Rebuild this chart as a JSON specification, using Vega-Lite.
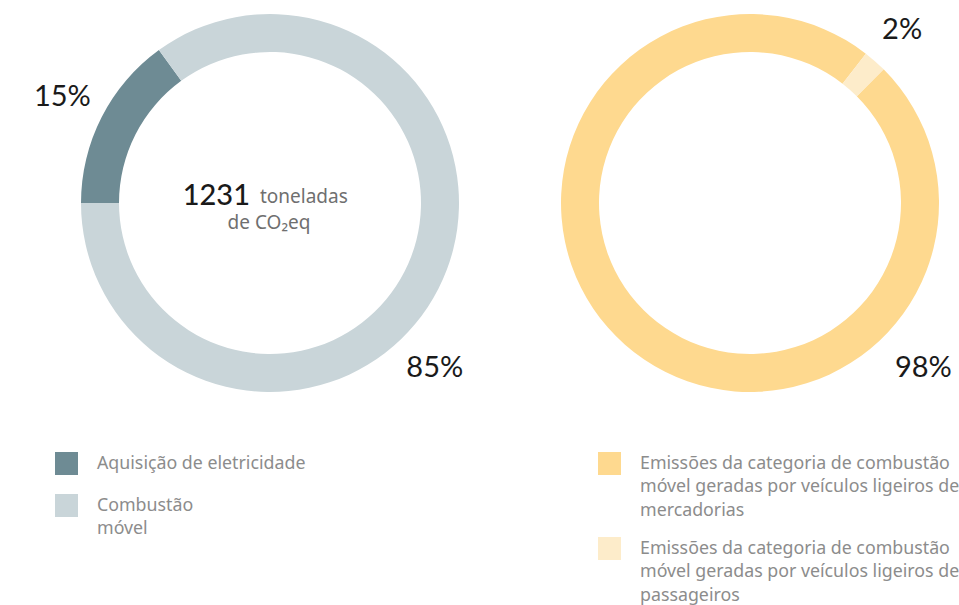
{
  "$schema": "https://vega.github.io/schema/vega-lite/v6.json",
  "padding": 0,
  "background": "white",
  "spacing": 0,
  "config": {"view": {"stroke": null}},
  "datasets": {
    "left": [
      {"cat": "Aquisição de eletricidade", "value": 0.15},
      {"cat": "Combustão móvel", "value": 0.85}
    ],
    "right": [
      {"cat": "Emissões da categoria de combustão móvel geradas por veículos ligeiros de mercadorias", "value": 0.98},
      {"cat": "Emissões da categoria de combustão móvel geradas por veículos ligeiros de passageiros", "value": 0.02}
    ],
    "center": [
      {"num": "1231", "unit": "toneladas", "unit2": "de CO₂eq"}
    ]
  },
  "resolve": {"scale": {"color": "independent", "theta": "independent"}, "legend": {"color": "independent"}},
  "hconcat": [
    {
      "width": 540,
      "height": 406,
      "layer": [
        {
          "data": {"name": "left"},
          "mark": {"type": "arc", "innerRadius": 151, "outerRadius": 189},
          "encoding": {
            "theta": {"field": "value", "type": "quantitative", "stack": true, "scale": {"range": [4.712389, 10.995574]}},
            "order": {"field": "cat", "sort": "ascending"},
            "color": {
              "field": "cat", "type": "nominal",
              "scale": {"range": ["#6e8b94", "#c9d5d9"]},
              "legend": {
                "orient": "none", "legendX": 55, "legendY": 452, "title": null,
                "symbolType": "square", "symbolSize": 529, "symbolStrokeWidth": 0,
                "labelFont": "Noto Sans", "labelFontSize": 17.8, "labelColor": "#8c8c8c",
                "labelOffset": 19, "rowPadding": 19,
                "labelBaseline": "top", "labelLimit": 500,
                "labelExpr": "datum.label == 'Combustão móvel' ? ['Combustão', 'móvel'] : datum.label",
                "encode": {"labels": {"update": {"lineHeight": {"value": 23.5}, "dy": {"value": -9}}}}
              }
            }
          }
        },
        {
          "data": {"name": "left"},
          "mark": {"type": "text", "radius": 233, "font": "Lato", "fontSize": 29, "color": "#1a1a1a"},
          "encoding": {
            "theta": {"field": "value", "type": "quantitative", "stack": true},
            "order": {"field": "cat", "sort": "ascending"},
            "detail": {"field": "cat", "type": "nominal"},
            "text": {"field": "value", "type": "quantitative", "format": ".0%"},
            "opacity": {"condition": {"test": "datum.value < 0.5", "value": 1}, "value": 0}
          }
        },
        {
          "data": {"name": "left"},
          "transform": [{"filter": "datum.value > 0.5"}],
          "mark": {"type": "text", "theta": 2.356, "radius": 233, "font": "Lato", "fontSize": 29, "color": "#1a1a1a"},
          "encoding": {
            "text": {"field": "value", "type": "quantitative", "format": ".0%"}
          }
        },
        {
          "data": {"name": "center"},
          "mark": {"type": "text", "align": "right", "baseline": "alphabetic", "dx": -20, "dy": 2, "font": "Lato", "fontSize": 29, "fontWeight": 500, "color": "#1a1a1a"},
          "encoding": {"text": {"field": "num"}}
        },
        {
          "data": {"name": "center"},
          "mark": {"type": "text", "align": "left", "baseline": "alphabetic", "dx": -10, "dy": 0, "font": "Noto Sans", "fontSize": 19, "color": "#6f6f6f"},
          "encoding": {"text": {"field": "unit"}}
        },
        {
          "data": {"name": "center"},
          "mark": {"type": "text", "align": "center", "baseline": "alphabetic", "dx": -1, "dy": 26, "font": "Noto Sans", "fontSize": 19, "color": "#6f6f6f"},
          "encoding": {"text": {"field": "unit2"}}
        }
      ]
    },
    {
      "width": 420,
      "height": 406,
      "data": {"name": "right"},
      "layer": [
        {
          "mark": {"type": "arc", "innerRadius": 151, "outerRadius": 189},
          "encoding": {
            "theta": {"field": "value", "type": "quantitative", "stack": true, "scale": {"range": [0.785398, 7.068583]}},
            "order": {"field": "cat", "sort": "ascending"},
            "color": {
              "field": "cat", "type": "nominal",
              "scale": {"range": ["#fed98f", "#fdecca"]},
              "legend": {
                "orient": "none", "legendX": 58, "legendY": 452, "title": null,
                "symbolType": "square", "symbolSize": 529, "symbolStrokeWidth": 0,
                "labelFont": "Noto Sans", "labelFontSize": 17.8, "labelColor": "#8c8c8c",
                "labelOffset": 19, "rowPadding": 17,
                "labelBaseline": "top", "labelLimit": 500,
                "labelExpr": "split(replace(replace(datum.label, 'combustão ', 'combustão|'), 'ligeiros de ', 'ligeiros de|'), '|')",
                "encode": {"labels": {"update": {"lineHeight": {"value": 23.5}, "dy": {"value": -9}}}}
              }
            }
          }
        },
        {
          "mark": {"type": "text", "radius": 230, "font": "Lato", "fontSize": 29, "color": "#1a1a1a"},
          "encoding": {
            "theta": {"field": "value", "type": "quantitative", "stack": true},
            "order": {"field": "cat", "sort": "ascending"},
            "detail": {"field": "cat", "type": "nominal"},
            "text": {"field": "value", "type": "quantitative", "format": ".0%"},
            "opacity": {"condition": {"test": "datum.value < 0.5", "value": 1}, "value": 0}
          }
        },
        {
          "transform": [{"filter": "datum.value > 0.5"}],
          "mark": {"type": "text", "theta": 2.33, "radius": 239, "font": "Lato", "fontSize": 29, "color": "#1a1a1a"},
          "encoding": {
            "text": {"field": "value", "type": "quantitative", "format": ".0%"}
          }
        }
      ]
    }
  ]
}
